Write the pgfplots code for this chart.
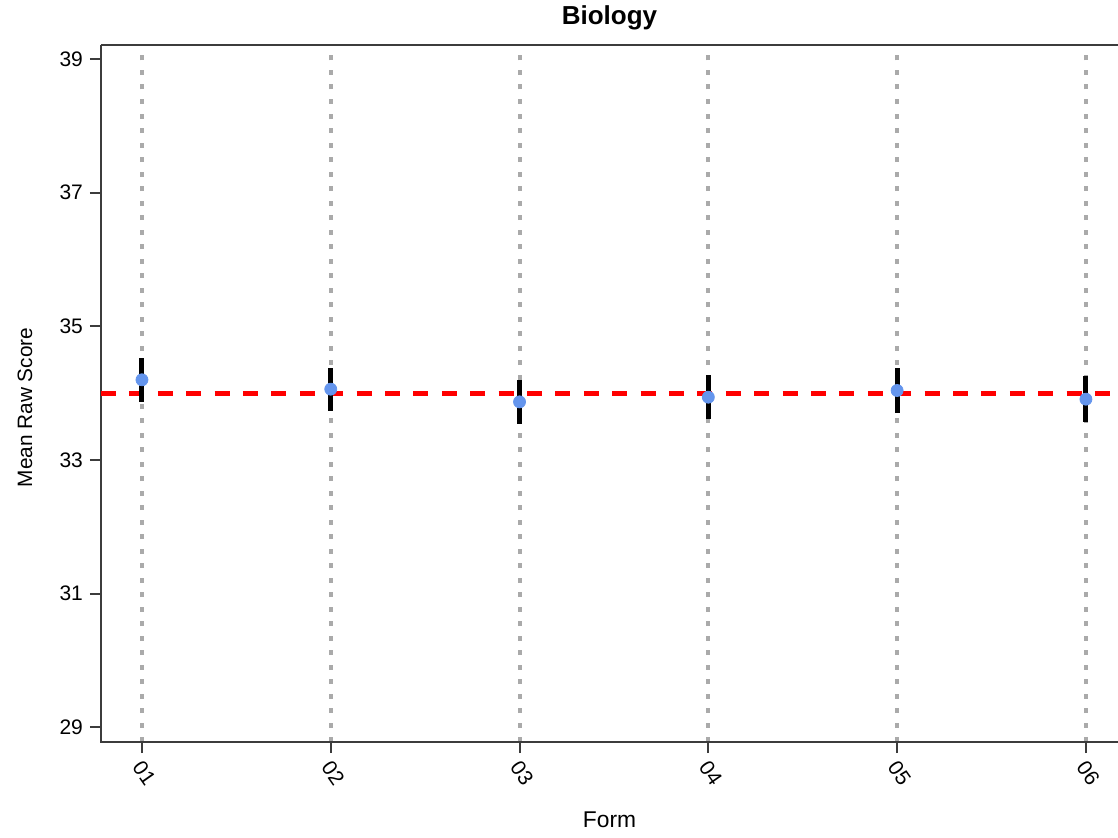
\documentclass[border=0pt]{standalone}
\usepackage{pgfplots}
\pgfplotsset{compat=1.18}
\usepackage{fontspec}
\setmainfont{Liberation Sans}
\definecolor{dotblue}{RGB}{100,149,237}
\definecolor{gridgray}{RGB}{170,170,170}
\definecolor{axgray}{RGB}{60,60,60}
\begin{document}
\begin{tikzpicture}
\begin{axis}[
  at={(0,0)}, anchor=south west,
  scale only axis, width=508.5pt, height=348.5pt,
  xmin=0.783, xmax=6.17, ymin=28.78, ymax=39.21,
  xtick={1,2,3,4,5,6}, xticklabels={01,02,03,04,05,06},
  ytick={29,31,33,35,37,39},
  axis line style={draw=none},
  tick align=outside, xtick pos=left, ytick pos=left,
  major tick length=5.5pt,
  tick style={axgray, line width=1pt},
  xmajorgrids=true,
  grid style={gridgray, line width=2pt, dash pattern=on 2.5pt off 4.75pt},
  clip=false,
  /pgf/number format/assume math mode=true,
  tick label style={font=\fontsize{10.5}{12}\selectfont},
  xticklabel style={xshift=1.2pt, yshift=-10pt, rotate=-55, anchor=center},
  title={Biology},
  title style={font=\bfseries\fontsize{13}{15}\selectfont, at={(axis description cs:0.5,1.0115)}, anchor=base},
  xlabel={Form},
  xlabel style={font=\fontsize{11.4}{13}\selectfont, at={(axis description cs:0.5,-0.122)}, anchor=base},
  ylabel={Mean Raw Score},
  ylabel style={font=\fontsize{10.4}{12}\selectfont, at={(axis description cs:-0.0678,0.48)}, anchor=base, rotate=0},
]
\draw[axgray, line width=1pt] (rel axis cs:0,1) -- (rel axis cs:0,0) -- (rel axis cs:1,0);
\draw[axgray, line width=1pt] (rel axis cs:0,1) -- (rel axis cs:1,1);
\addplot[red, line width=2.5pt, dash pattern=on 7.5pt off 6.7pt] coordinates {(0.783,34) (6.17,34)};
\addplot[only marks, mark=*, mark size=3pt, mark options={draw=dotblue, fill=dotblue},
  error bars/.cd, y dir=both, y explicit, error mark=none,
  error bar style={black, line width=2.5pt, solid}]
  table[x=x, y=y, y error=e] {
x y e
1 34.20 0.33
2 34.06 0.32
3 33.87 0.33
4 33.94 0.33
5 34.04 0.34
6 33.91 0.34
};
\end{axis}
\pgfresetboundingbox
\useasboundingbox (-50.5pt,-47.5pt) rectangle (508.5pt,371pt);
\end{tikzpicture}
\end{document}
